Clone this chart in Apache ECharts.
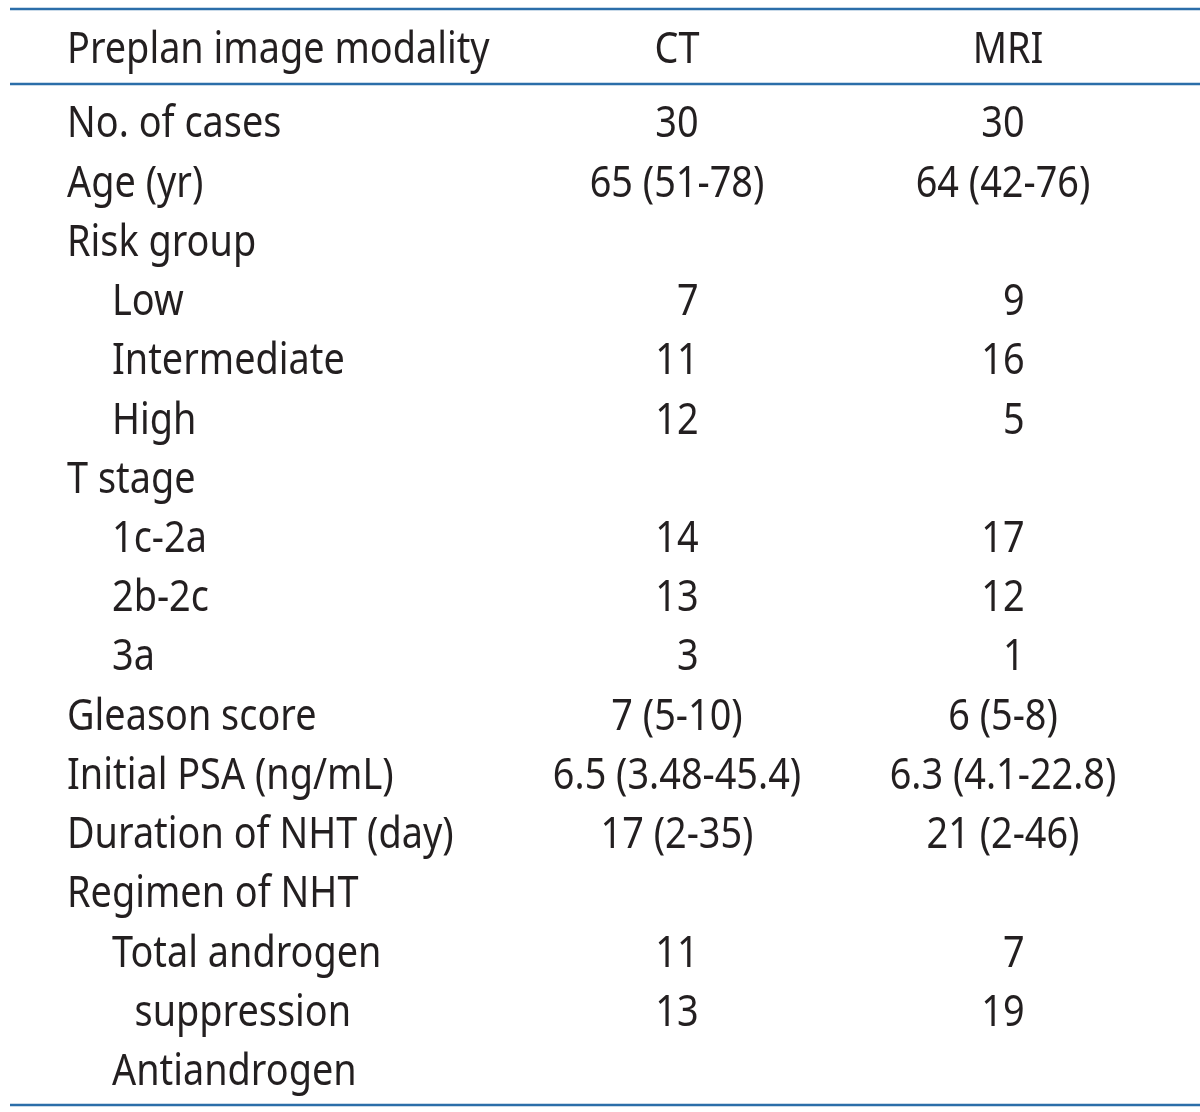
<!DOCTYPE html>
<html><head><meta charset="utf-8">
<script src="https://cdn.jsdelivr.net/npm/echarts@6/dist/echarts.min.js"></script>
<style>html,body{margin:0;padding:0;background:#fff}#c{width:1200px;height:1112px}</style>
</head><body><div id="c"></div>
<script>
// ---- data ----
const headers = ['Preplan image modality', 'CT', 'MRI'];
const rowLabels = ['No. of cases', 'Age (yr)', 'Risk group', 'Low', 'Intermediate', 'High', 'T stage', '1c-2a', '2b-2c', '3a',
  'Gleason score', 'Initial PSA (ng/mL)', 'Duration of NHT (day)', 'Regimen of NHT', 'Total androgen', 'suppression', 'Antiandrogen'];
const rowIndent = [0, 0, 0, 1, 1, 1, 0, 1, 1, 1, 0, 0, 0, 0, 1, 1.5, 1];
const ctValues = ['30', '65 (51-78)', '', '\u20077', '11', '12', '', '14', '13', '\u20073', '7 (5-10)', '6.5 (3.48-45.4)', '17 (2-35)', '', '11', '13', ''];
const mriValues = ['30', '64 (42-76)', '', '\u20079', '16', '\u20075', '', '17', '12', '\u20071', '6 (5-8)', '6.3 (4.1-22.8)', '21 (2-46)', '', '\u20077', '19', ''];

// ---- layout ----
const FONT = '"Noto Sans", sans-serif';
const FS = 43;
const SX = 0.88;
const DY = 3;
const TXT = '#231f20';
const LINE = '#2b6ea9';
const COL_X = [67, 677, 1003];
const INDENT = 45;

const cells = [];
rowLabels.forEach((l, i) => {
  cells.push([0, i, l, rowIndent[i]]);
  cells.push([1, i, ctValues[i], 0]);
  cells.push([2, i, mriValues[i], 0]);
});

function txt(text, x, y, align) {
  return {type: 'text', x: x, y: y, scaleX: SX,
    style: {text: text, font: FS + 'px ' + FONT, fill: TXT, textAlign: align, textVerticalAlign: 'middle'}};
}

const chart = echarts.init(document.getElementById('c'), null, {renderer: 'canvas'});
chart.setOption({
  animation: false,
  grid: {left: 0, right: 0, top: 92.4, bottom: 12.4},
  xAxis: {type: 'value', min: 0, max: 1200, show: false},
  yAxis: {type: 'category', inverse: true, data: rowLabels, show: false},
  graphic: [
    {type: 'line', shape: {x1: 10, y1: 9, x2: 1200, y2: 9}, style: {stroke: LINE, lineWidth: 2.5}},
    {type: 'line', shape: {x1: 10, y1: 84, x2: 1200, y2: 84}, style: {stroke: LINE, lineWidth: 2.5}},
    {type: 'line', shape: {x1: 10, y1: 1105, x2: 1200, y2: 1105}, style: {stroke: LINE, lineWidth: 2.5}},
    txt(headers[0], COL_X[0], 48 + DY, 'left'),
    txt(headers[1], COL_X[1], 48 + DY, 'center'),
    txt(headers[2], COL_X[2] + 5, 48 + DY, 'center')
  ],
  series: [{
    type: 'custom',
    data: cells,
    encode: {x: 0, y: 1},
    renderItem: function (params, api) {
      const col = api.value(0);
      const row = api.value(1);
      const y = api.coord([0, row])[1] + DY;
      const d = cells[params.dataIndex];
      const x = col === 0 ? COL_X[0] + d[3] * INDENT : COL_X[col];
      return txt(d[2], x, y, col === 0 ? 'left' : 'center');
    }
  }]
});
</script></body></html>
